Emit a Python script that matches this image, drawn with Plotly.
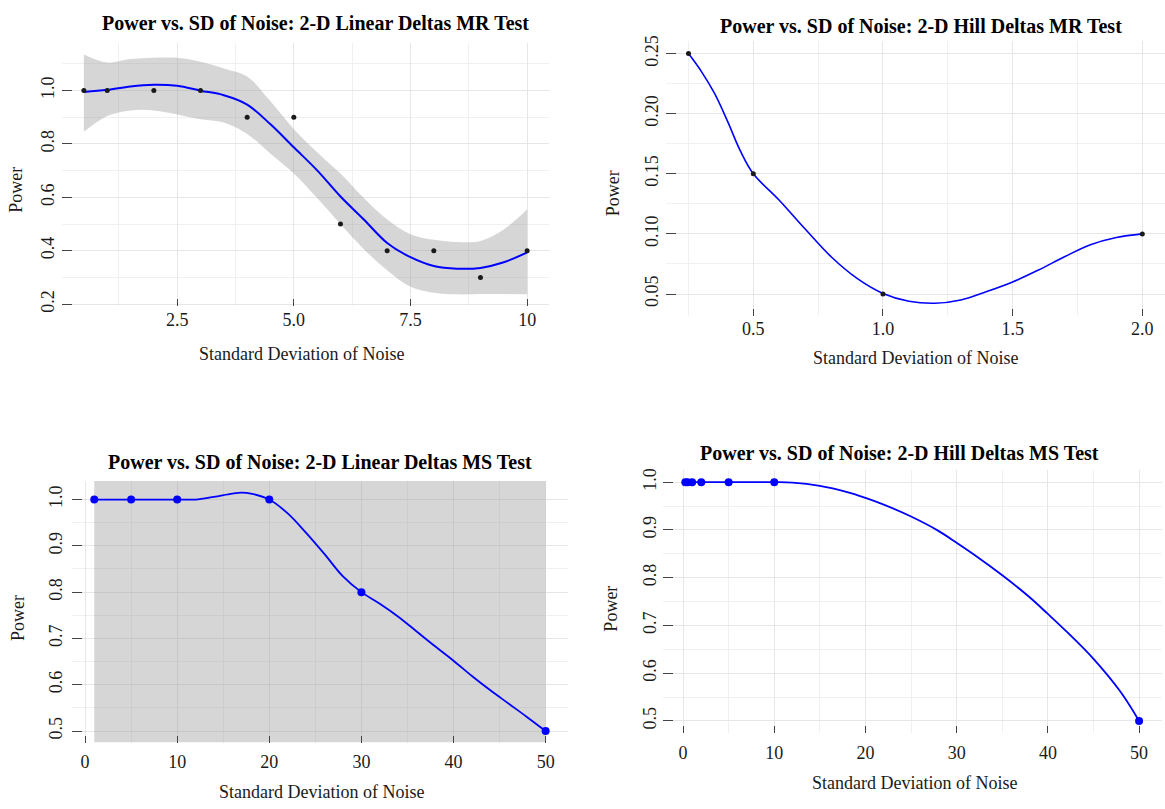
import plotly.graph_objects as go

W, H = 1165, 809

# ---------------- data ----------------
# Panel 1: 2-D Linear Deltas MR Test
lin_mr_x = [0.5, 1, 2, 3, 4, 5, 6, 7, 8, 9, 10]
lin_mr_y = [1.0, 1.0, 1.0, 1.0, 0.9, 0.9, 0.5, 0.4, 0.4, 0.3, 0.4]
lin_mr_fit_x = [0.5, 1.0, 1.5, 2.0, 2.5, 3.0, 3.5, 4.0, 4.5, 5.0,
                5.5, 6.0, 6.5, 7.0, 7.5, 8.0, 8.5, 9.0, 9.5, 10.0]
lin_mr_fit_y = [0.994, 1.002, 1.015, 1.021, 1.017, 0.999, 0.982, 0.947, 0.873, 0.787,
                0.701, 0.603, 0.517, 0.429, 0.376, 0.343, 0.333, 0.336, 0.357, 0.394]
lin_mr_hi = [1.134, 1.104, 1.117, 1.122, 1.122, 1.107, 1.082, 1.052, 0.959, 0.855,
             0.769, 0.689, 0.597, 0.517, 0.462, 0.441, 0.433, 0.437, 0.480, 0.554]
lin_mr_lo = [0.845, 0.904, 0.925, 0.925, 0.910, 0.892, 0.880, 0.837, 0.763, 0.689,
             0.597, 0.499, 0.406, 0.327, 0.265, 0.243, 0.237, 0.238, 0.238, 0.237]

# Panel 2: 2-D Hill Deltas MR Test
hill_mr_x = [0.25, 0.5, 1.0, 2.0]
hill_mr_y = [0.25, 0.15, 0.05, 0.10]
hill_mr_fit_x = [0.25, 0.3, 0.35, 0.4, 0.45, 0.5, 0.6, 0.7, 0.8, 0.9, 1.0,
                 1.1, 1.2, 1.3, 1.4, 1.5, 1.6, 1.7, 1.8, 1.9, 2.0]
hill_mr_fit_y = [0.250, 0.235, 0.217, 0.194, 0.169, 0.150, 0.128, 0.104, 0.081, 0.063, 0.0505,
                 0.044, 0.0423, 0.045, 0.052, 0.060, 0.070, 0.081, 0.091, 0.097, 0.100]

# Panel 3: 2-D Linear Deltas MS Test
lin_ms_x = [1, 5, 10, 20, 30, 50]
lin_ms_y = [1.0, 1.0, 1.0, 1.0, 0.8, 0.5]
lin_ms_fit_x = [1, 5, 10, 12, 14, 16, 17, 18, 20, 22, 24, 26, 28, 30,
                32, 34, 36, 38, 40, 42, 44, 46, 48, 50]
lin_ms_fit_y = [1.0, 1.0, 1.0, 1.0, 1.006, 1.013, 1.015, 1.013, 1.0, 0.97, 0.928, 0.882, 0.834, 0.80,
                0.775, 0.747, 0.715, 0.683, 0.652, 0.619, 0.588, 0.559, 0.530, 0.5]
lin_ms_band_x = [1, 50]
lin_ms_band_hi = [1.04, 1.04]
lin_ms_band_lo = [0.476, 0.476]

# Panel 4: 2-D Hill Deltas MS Test
hill_ms_x = [0.25, 0.5, 1, 2, 5, 10, 50]
hill_ms_y = [1.0, 1.0, 1.0, 1.0, 1.0, 1.0, 0.5]
hill_ms_fit_x = [0.25, 0.5, 1, 2, 5, 10, 12, 15, 18, 20, 22, 25, 28, 30,
                 32, 35, 38, 40, 42, 45, 48, 50]
hill_ms_fit_y = [1.0, 1.0, 1.0, 1.0, 1.0, 1.0, 0.999, 0.992, 0.979, 0.967, 0.953, 0.928, 0.898, 0.873,
                 0.847, 0.805, 0.759, 0.724, 0.688, 0.630, 0.560, 0.5]

titles = ["Power vs. SD of Noise: 2-D Linear Deltas MR Test",
          "Power vs. SD of Noise: 2-D Hill Deltas MR Test",
          "Power vs. SD of Noise: 2-D Linear Deltas MS Test",
          "Power vs. SD of Noise: 2-D Hill Deltas MS Test"]
x_title = "Standard Deviation of Noise"
y_title = "Power"

# ticks
p1_xt = [2.5, 5.0, 7.5, 10]; p1_xl = ["2.5", "5.0", "7.5", "10"]
p1_xm = [1.25, 3.75, 6.25, 8.75]
p1_yt = [0.2, 0.4, 0.6, 0.8, 1.0]; p1_yl = ["0.2", "0.4", "0.6", "0.8", "1.0"]
p1_ym = [0.3, 0.5, 0.7, 0.9, 1.1]

p2_xt = [0.5, 1.0, 1.5, 2.0]; p2_xl = ["0.5", "1.0", "1.5", "2.0"]
p2_xm = [0.25, 0.75, 1.25, 1.75]
p2_yt = [0.05, 0.10, 0.15, 0.20, 0.25]; p2_yl = ["0.05", "0.10", "0.15", "0.20", "0.25"]
p2_ym = [0.075, 0.125, 0.175, 0.225]

p34_xt = [0, 10, 20, 30, 40, 50]; p34_xl = ["0", "10", "20", "30", "40", "50"]
p34_xm = [5, 15, 25, 35, 45]
p34_yt = [0.5, 0.6, 0.7, 0.8, 0.9, 1.0]; p34_yl = ["0.5", "0.6", "0.7", "0.8", "0.9", "1.0"]
p34_ym = [0.55, 0.65, 0.75, 0.85, 0.95]

# ---------------- figure ----------------
FONT = "Liberation Serif, Times New Roman, serif"
BLUE = "#0000FF"
BAND = "rgba(153,153,153,0.4)"
GRID = "#E6E6E6"
MINOR = "#F0F0F0"
TICKC = "#444444"

fig = go.Figure()

def px2paper_x(px):
    return px / W

def px2paper_y(py):
    return 1 - py / H

# panel 1
fig.add_trace(go.Scatter(x=lin_mr_fit_x, y=lin_mr_hi, mode="lines", line=dict(width=0, shape="spline"),
                         xaxis="x", yaxis="y", showlegend=False, hoverinfo="skip"))
fig.add_trace(go.Scatter(x=lin_mr_fit_x, y=lin_mr_lo, mode="lines", line=dict(width=0, shape="spline"),
                         fill="tonexty", fillcolor=BAND, xaxis="x", yaxis="y", showlegend=False, hoverinfo="skip"))
fig.add_trace(go.Scatter(x=lin_mr_fit_x, y=lin_mr_fit_y, mode="lines",
                         line=dict(color=BLUE, width=2, shape="spline"), xaxis="x", yaxis="y", showlegend=False))
fig.add_trace(go.Scatter(x=lin_mr_x, y=lin_mr_y, mode="markers", marker=dict(color="#1a1a1a", size=5),
                         xaxis="x", yaxis="y", showlegend=False))

# panel 2
fig.add_trace(go.Scatter(x=hill_mr_fit_x, y=hill_mr_fit_y, mode="lines",
                         line=dict(color=BLUE, width=1.6, shape="spline"), xaxis="x2", yaxis="y2", showlegend=False))
fig.add_trace(go.Scatter(x=hill_mr_x, y=hill_mr_y, mode="markers", marker=dict(color="#1a1a1a", size=5),
                         xaxis="x2", yaxis="y2", showlegend=False))

# panel 3
fig.add_trace(go.Scatter(x=lin_ms_band_x, y=lin_ms_band_hi, mode="lines", line=dict(width=0),
                         xaxis="x3", yaxis="y3", showlegend=False, hoverinfo="skip"))
fig.add_trace(go.Scatter(x=lin_ms_band_x, y=lin_ms_band_lo, mode="lines", line=dict(width=0),
                         fill="tonexty", fillcolor=BAND, xaxis="x3", yaxis="y3", showlegend=False, hoverinfo="skip"))
fig.add_trace(go.Scatter(x=lin_ms_fit_x, y=lin_ms_fit_y, mode="lines",
                         line=dict(color=BLUE, width=1.8, shape="spline"), xaxis="x3", yaxis="y3", showlegend=False))
fig.add_trace(go.Scatter(x=lin_ms_x, y=lin_ms_y, mode="markers", marker=dict(color=BLUE, size=8),
                         xaxis="x3", yaxis="y3", showlegend=False))

# panel 4
fig.add_trace(go.Scatter(x=hill_ms_fit_x, y=hill_ms_fit_y, mode="lines",
                         line=dict(color=BLUE, width=1.8, shape="spline"), xaxis="x4", yaxis="y4", showlegend=False))
fig.add_trace(go.Scatter(x=hill_ms_x, y=hill_ms_y, mode="markers", marker=dict(color=BLUE, size=8),
                         xaxis="x4", yaxis="y4", showlegend=False))


def xaxis(domain, rng, tv, tl, mv, anchor, standoff):
    return dict(domain=domain, range=rng, anchor=anchor, tickmode="array", tickvals=tv, ticktext=tl,
                showgrid=True, gridcolor=GRID, gridwidth=1, zeroline=False, showline=False,
                ticks="inside", ticklen=7, tickwidth=1, tickcolor=TICKC, ticklabelstandoff=standoff,
                tickfont=dict(family=FONT, size=18, color="#1a1a1a"),
                minor=dict(tickmode="array", tickvals=mv, showgrid=True, gridcolor=MINOR, gridwidth=1, ticks=""),
                fixedrange=True)


def yaxis(domain, rng, tv, tl, mv, anchor, standoff):
    return dict(domain=domain, range=rng, anchor=anchor, tickmode="array", tickvals=tv, ticktext=tl,
                showgrid=True, gridcolor=GRID, gridwidth=1, zeroline=False, showline=False,
                ticks="inside", ticklen=10, tickwidth=1, tickcolor=TICKC, tickangle=-90,
                ticklabelstandoff=standoff,
                tickfont=dict(family=FONT, size=18, color="#1a1a1a"),
                minor=dict(tickmode="array", tickvals=mv, showgrid=True, gridcolor=MINOR, gridwidth=1, ticks=""),
                fixedrange=True)


def xtick_overlay(base, anchor, rng, tv):
    return dict(overlaying=base, anchor=anchor, range=rng, tickmode="array", tickvals=tv,
                showticklabels=False, showgrid=False, zeroline=False, showline=False,
                ticks="outside", ticklen=9, tickwidth=1, tickcolor=TICKC, side="bottom", fixedrange=True)


def ytick_overlay(base, anchor, rng, tv):
    return dict(overlaying=base, anchor=anchor, range=rng, tickmode="array", tickvals=tv,
                showticklabels=False, showgrid=False, zeroline=False, showline=False,
                ticks="outside", ticklen=6, tickwidth=1, tickcolor=TICKC, side="left", fixedrange=True)


# panel pixel boxes: left, right, top, bottom
boxes = [(61.7, 549.3, 37.1, 304.9),
         (665.8, 1165.0, 35.6, 314.3),
         (71.7, 568.2, 481.7, 748.2),
         (662.6, 1161.8, 471.2, 737.8)]

def xd(b):
    return [b[0] / W, min(b[1] / W, 1.0)]

def yd(b):
    return [1 - b[3] / H, 1 - b[2] / H]

r1x, r1y = [0.025, 10.475], [0.192, 1.179]
r2x, r2y = [0.1625, 2.0875], [0.032, 0.2604]
r3x, r3y = [-1.45, 52.45], [0.474, 1.041]
r4x, r4y = [-2.24, 52.49], [0.475, 1.025]

fig.update_layout(
    width=W, height=H, margin=dict(l=0, r=0, t=0, b=0),
    paper_bgcolor="white", plot_bgcolor="white", showlegend=False,
    font=dict(family=FONT, color="#1a1a1a"),
    xaxis=xaxis(xd(boxes[0]), r1x, p1_xt, p1_xl, p1_xm, "y", 1),
    yaxis=yaxis(yd(boxes[0]), r1y, p1_yt, p1_yl, p1_ym, "x", 3),
    xaxis2=xaxis(xd(boxes[1]), r2x, p2_xt, p2_xl, p2_xm, "y2", 0),
    yaxis2=yaxis(yd(boxes[1]), r2y, p2_yt, p2_yl, p2_ym, "x2", 3),
    xaxis3=xaxis(xd(boxes[2]), r3x, p34_xt, p34_xl, p34_xm, "y3", 6),
    yaxis3=yaxis(yd(boxes[2]), r3y, p34_yt, p34_yl, p34_ym, "x3", 5),
    xaxis4=xaxis(xd(boxes[3]), r4x, p34_xt, p34_xl, p34_xm, "y4", 7),
    yaxis4=yaxis(yd(boxes[3]), r4y, p34_yt, p34_yl, p34_ym, "x4", 2),
    xaxis5=xtick_overlay("x", "y", r1x, p1_xt),
    yaxis5=ytick_overlay("y", "x", r1y, p1_yt),
    xaxis6=xtick_overlay("x2", "y2", r2x, p2_xt),
    yaxis6=ytick_overlay("y2", "x2", r2y, p2_yt),
    xaxis7=xtick_overlay("x3", "y3", r3x, p34_xt),
    yaxis7=ytick_overlay("y3", "x3", r3y, p34_yt),
    xaxis8=xtick_overlay("x4", "y4", r4x, p34_xt),
    yaxis8=ytick_overlay("y4", "x4", r4y, p34_yt),
)

# titles and axis titles as annotations (pixel positions)
title_pos = [(315.7, 17.3), (921.0, 20.0), (320.0, 463.3), (899.4, 453.3)]
xt_pos = [(301.0, 353.0), (915.0, 357.0), (321.8, 798.3), (914.0, 788.3)]
yt_pos = [(16.6, 187.0), (613.0, 190.0), (18.5, 621.7), (611.0, 611.7)]

anns = []
for i in range(4):
    anns.append(dict(text="<b>" + titles[i] + "</b>", x=px2paper_x(title_pos[i][0]), y=px2paper_y(title_pos[i][1]),
                     xref="paper", yref="paper", xanchor="center", yanchor="middle", showarrow=False,
                     font=dict(family=FONT, size=20, color="black")))
    anns.append(dict(text=x_title, x=px2paper_x(xt_pos[i][0]), y=px2paper_y(xt_pos[i][1]),
                     xref="paper", yref="paper", xanchor="center", yanchor="middle", showarrow=False,
                     font=dict(family=FONT, size=18, color="#1a1a1a")))
    anns.append(dict(text=y_title, x=px2paper_x(yt_pos[i][0]), y=px2paper_y(yt_pos[i][1]),
                     xref="paper", yref="paper", xanchor="center", yanchor="middle", showarrow=False,
                     textangle=-90, font=dict(family=FONT, size=18, color="#1a1a1a")))
fig.update_layout(annotations=anns)

fig.write_html("out.html")
